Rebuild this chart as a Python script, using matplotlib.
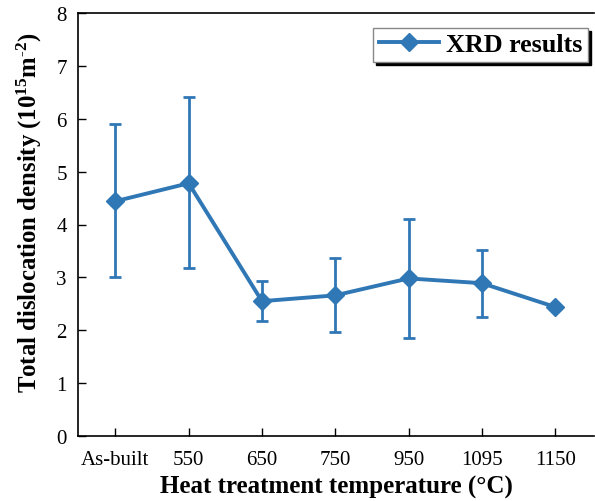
import matplotlib
matplotlib.use("Agg")
import matplotlib.pyplot as plt
from matplotlib.lines import Line2D
import numpy as np

categories = ["As-built", "550", "650", "750", "950", "1095", "1150"]
density = [4.44, 4.78, 2.55, 2.66, 2.98, 2.89, 2.44]
err_low = [3.00, 3.17, 2.17, 1.96, 1.86, 2.26, 2.44]
err_high = [5.90, 6.42, 2.94, 3.36, 4.11, 3.52, 2.44]

plt.rcParams['font.family'] = ['Liberation Serif', 'DejaVu Serif']
plt.rcParams['mathtext.fontset'] = 'custom'
plt.rcParams['mathtext.rm'] = 'Liberation Serif'
plt.rcParams['mathtext.bf'] = 'Liberation Serif:bold'
plt.rcParams['mathtext.it'] = 'Liberation Serif:italic'
color = '#3077b5'

fig = plt.figure(figsize=(5.95, 5.02), dpi=100)
ax = fig.add_axes([78/595, 1-437/502, (594-78)/595, (437-14)/502])

x = np.arange(len(categories))
d = np.array(density)
yerr = np.vstack([d - np.array(err_low), np.array(err_high) - d])
ax.errorbar(x, d, yerr=yerr, color=color, lw=2.8, marker='D', markersize=9.5,
            ecolor=color, elinewidth=2, capsize=4.5, capthick=2)

ax.set_xlim(-0.51, 6.53)
ax.set_ylim(0, 8)
ax.set_xticks(x)
ax.set_xticklabels(categories)
ax.set_yticks(range(0, 9))
ax.tick_params(direction='in', length=6, width=1, labelsize=15)
ax.tick_params(axis='x', pad=10)
ax.tick_params(axis='y', pad=8)
ax.spines['right'].set_visible(False)
for s in ['left', 'bottom', 'top']:
    ax.spines[s].set_linewidth(1.2)

ax.set_xlabel('Heat treatment temperature (°C)', fontsize=18, fontweight='bold', labelpad=4)
ax.set_ylabel(r'Total dislocation density (10$^{\mathbf{15}}$m$^{\mathbf{\text{-}2}}$)',
              fontsize=17.8, fontweight='bold', labelpad=9)
ax.yaxis.label.set_y(0.53)

handle = Line2D([], [], color=color, lw=2.8, marker='D', markersize=9.5)
leg = ax.legend([handle], ['XRD results'], loc='upper right',
                bbox_to_anchor=(588/595, 1-29/502),
                bbox_transform=fig.transFigure, fancybox=False,
                prop={'size': 18.8, 'weight': 'bold'}, handlelength=2.3,
                borderpad=0.2, handletextpad=0.3, borderaxespad=0,
                shadow={'color': 'k', 'alpha': 1})
leg.get_frame().set_edgecolor('#888888')
leg.get_frame().set_linewidth(1.0)

fig.savefig('out.png', dpi=100)
